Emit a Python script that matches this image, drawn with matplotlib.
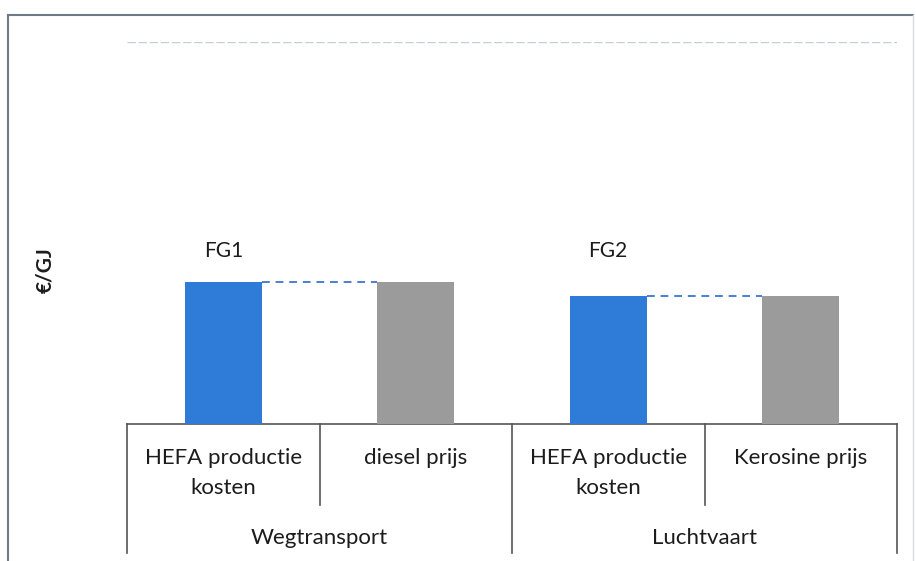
import matplotlib.pyplot as plt
from matplotlib.lines import Line2D
from matplotlib.transforms import blended_transform_factory

# data (arbitrary €/GJ units)
categories = ["HEFA productie\nkosten", "diesel prijs", "HEFA productie\nkosten", "Kerosine prijs"]
groups = ["Wegtransport", "Luchtvaart"]
values = [37.2, 37.2, 33.5, 33.5]
bar_labels = ["FG1", "", "FG2", ""]
colors = ["#2f7cd8", "#9b9b9b", "#2f7cd8", "#9b9b9b"]

plt.rcParams['font.family'] = ['Lato', 'DejaVu Sans']

W, H = 916, 561
fig = plt.figure(figsize=(W / 100, H / 100), dpi=100)

def fx(px):
    return px / W

def fy(py):
    return 1 - py / H

ax = fig.add_axes([fx(127), fy(424), fx(897) - fx(127), fy(42) - fy(424)])
ax.set_xlim(0, 4)
ax.set_ylim(0, 100)

xs = [i + 0.5 for i in range(len(values))]
ax.bar(xs, values, width=0.4, color=colors, zorder=3)

# dashed connector between pairs
for i in (0, 2):
    ax.plot([xs[i] + 0.2, xs[i + 1] - 0.2], [values[i], values[i + 1]],
            color="#4a7fd4", lw=1.4, dashes=(4, 3), zorder=2)

# FG labels sit at the same height above both groups
for x, lab in zip(xs, bar_labels):
    if lab:
        ax.text(x, 45.3, lab, ha="center", va="center", fontsize=15, color="#1c1c1c")

# faint top gridline
ax.axhline(100, color="#c8ccd8", lw=1, dashes=(6, 2))

for s in ax.spines.values():
    s.set_visible(False)
ax.set_xticks([])
ax.set_yticks([])

# category table below the axis
tr = blended_transform_factory(ax.transData, ax.transAxes)
line_kw = dict(color="#555555", lw=1.2, transform=tr, clip_on=False)
ax.plot([0, 4], [0, 0], **line_kw)
for x in (0, 2, 4):
    ax.plot([x, x], [0, -0.338], **line_kw)
for x in (1, 3):
    ax.plot([x, x], [0, -0.212], **line_kw)

for x, cat in zip(xs, categories):
    y = -0.129 if "\n" in cat else -0.089
    ax.text(x, y, cat, transform=tr, ha="center", va="center", fontsize=16,
            color="#1c1c1c", linespacing=1.6)
for i, g in enumerate(groups):
    ax.text(2 * i + 1, -0.298, g, transform=tr, ha="center", va="center",
            fontsize=16, color="#1c1c1c")

fig.text(fx(45), fy(270), "€/GJ", rotation=90, ha="center", va="center",
         fontsize=15, fontweight="bold", color="#1c1c1c")

# outer frame
frame_kw = dict(color="#707a86", lw=1.5)
fig.add_artist(Line2D([fx(8), fx(8)], [fy(15), 0], **frame_kw))
fig.add_artist(Line2D([fx(8), fx(913)], [fy(15), fy(15)], **frame_kw))
fig.add_artist(Line2D([fx(913), fx(913)], [fy(15), 0], color="#d8dce0", lw=1))

fig.savefig("out.png", dpi=100)
